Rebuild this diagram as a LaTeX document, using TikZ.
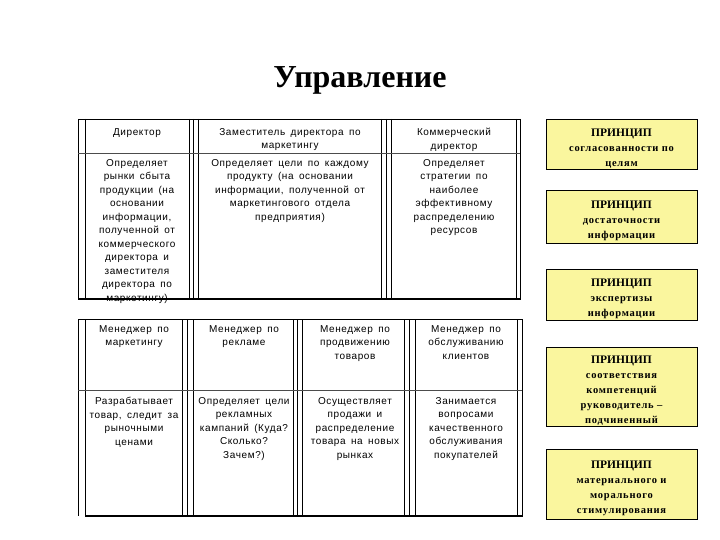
\documentclass[tikz,border=0pt]{standalone}
\usepackage{fontspec}
\setmainfont{Liberation Serif}
\newfontfamily\cellfont[LetterSpace=6,WordSpace=1.6]{Liberation Sans}
\newfontfamily\boxfont[LetterSpace=7]{Liberation Serif}
\newcommand\pttl[1]{{\rmfamily\bfseries\fontsize{11.5}{15}\selectfont\rule{0pt}{15.5pt}#1}}
\begin{document}
\begin{tikzpicture}[x=1pt,y=-1pt,
  celltxt/.style={font=\cellfont\fontsize{10}{13.5}\selectfont,align=center,anchor=north,inner sep=0pt},
  princ/.style={draw=black,line width=0.8pt,fill=yellowbox,minimum width=151pt,inner sep=1pt,align=center,font=\boxfont\bfseries\fontsize{10.5}{15}\selectfont},
  tline/.style={line width=0.6pt},
  thick line/.style={line width=1.8pt}]
\definecolor{yellowbox}{HTML}{FAF69E}
\useasboundingbox (0,0) rectangle (720,540);
\fill[white] (0,0) rectangle (720,540);
\node[font=\bfseries\fontsize{32}{36}\selectfont] (title) at (360,80) {Управление};
% top table
\foreach \x in {78,85,189,193,198,381,386,391,516}
  \draw[tline] (\x,119) -- (\x,299);
\draw[line width=1pt] (520,119) -- (520,299);
\draw[tline] (78,119) -- (520,119);
\draw[line width=0.4pt,black!70] (78,153) -- (520,153);
\draw[thick line] (78,299) -- (521,299);
\node[celltxt] (h1) at (137,128) {Директор};
\node[celltxt] (h2) at (290,128) {Заместитель директора по\\маркетингу};
\node[celltxt] (h3) at (454,128) {Коммерческий\\директор};
\node[celltxt] (b1) at (137,159) {Определяет\\рынки сбыта\\продукции (на\\основании\\информации,\\полученной от\\коммерческого\\директора и\\заместителя\\директора по\\маркетингу)};
\node[celltxt] (b2) at (290,159) {Определяет цели по каждому\\продукту (на основании\\информации, полученной от\\маркетингового отдела\\предприятия)};
\node[celltxt] (b3) at (454,159) {Определяет\\стратегии по\\наиболее\\эффективному\\распределению\\ресурсов};
% bottom table
\foreach \x in {78,85,182,187,193,293,297,302,404,409,415,517}
  \draw[tline] (\x,319) -- (\x,516);
\draw[line width=1pt] (522,319) -- (522,516);
\draw[tline] (78,319) -- (522,319);
\draw[line width=0.4pt,black!70] (78,390) -- (522,390);
\draw[thick line] (85,516) -- (523,516);
\node[celltxt] (m1) at (134,325) {Менеджер по\\маркетингу};
\node[celltxt] (m2) at (244,325) {Менеджер по\\рекламе};
\node[celltxt] (m3) at (355,325) {Менеджер по\\продвижению\\товаров};
\node[celltxt] (m4) at (466,325) {Менеджер по\\обслуживанию\\клиентов};
\node[celltxt] (r1) at (134,397) {Разрабатывает\\товар, следит за\\рыночными\\ценами};
\node[celltxt] (r2) at (244,397) {Определяет цели\\рекламных\\кампаний (Куда?\\Сколько?\\Зачем?)};
\node[celltxt] (r3) at (355,397) {Осуществляет\\продажи и\\распределение\\товара на новых\\рынках};
\node[celltxt] (r4) at (466,397) {Занимается\\вопросами\\качественного\\обслуживания\\покупателей};
% principle boxes
\node[princ,minimum height=49pt] (p1) at (621.5,144.5) {\pttl{ПРИНЦИП}\\согласованности по\\целям};
\node[princ,minimum height=53pt] (p2) at (621.5,216.5) {\pttl{ПРИНЦИП}\\достаточности\\информации};
\node[princ,minimum height=51pt] (p3) at (621.5,294.5) {\pttl{ПРИНЦИП}\\экспертизы\\информации};
\node[princ,minimum height=78pt] (p4) at (621.5,387) {\pttl{ПРИНЦИП}\\соответствия\\компетенций\\руководитель –\\подчиненный};
\node[princ,minimum height=70pt] (p5) at (621.5,484.5) {\pttl{ПРИНЦИП}\\материального и\\морального\\стимулирования};
\end{tikzpicture}
\end{document}
